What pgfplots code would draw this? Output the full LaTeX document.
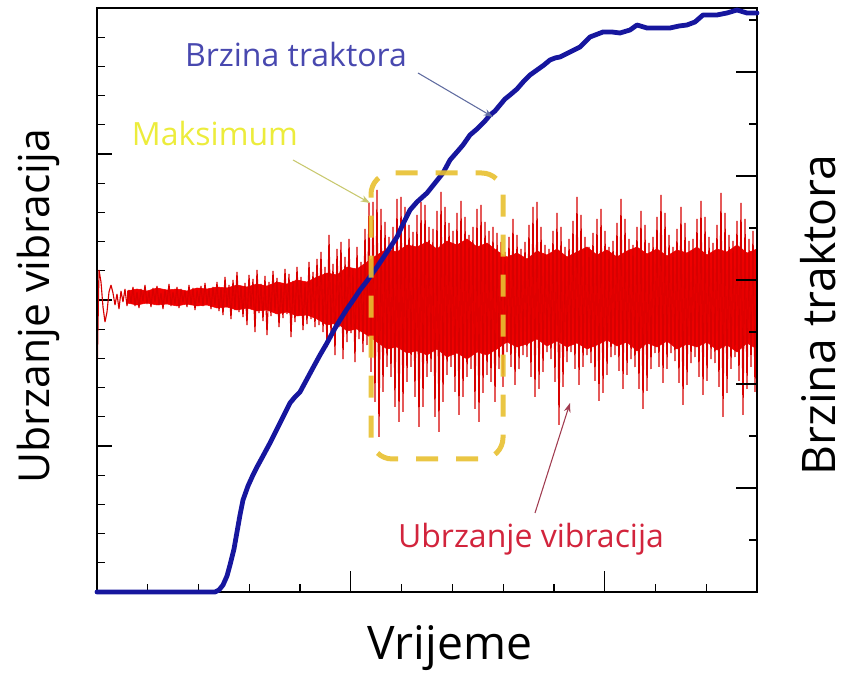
\documentclass[border=0pt]{standalone}
\usepackage{pgfplots}
\pgfplotsset{compat=1.18}
\usepackage{fontspec}
\setmainfont{Open Sans}
\usetikzlibrary{arrows.meta}
\definecolor{sigred}{RGB}{240,0,0}
\definecolor{spikered}{RGB}{215,0,0}
\definecolor{speedblue}{RGB}{22,22,158}
\definecolor{boxyellow}{RGB}{232,192,48}
\definecolor{annblue}{RGB}{72,72,175}
\definecolor{annyellow}{RGB}{236,236,60}
\definecolor{annred}{RGB}{210,36,60}
\definecolor{arrblue}{RGB}{96,108,160}
\definecolor{arryellow}{RGB}{200,200,110}
\definecolor{arrred}{RGB}{160,60,80}
\begin{document}
\begin{tikzpicture}
\begin{axis}[
  width=495pt, height=438pt, scale only axis,
  xmin=0, xmax=660, ymin=-295, ymax=289,
  xtick=\empty,
  ytick={-295,-149,-3,143,289}, minor tick num=4,
  ytick pos=left, tick align=inside,
  yticklabels={},
  major tick length=11pt, minor tick length=6pt,
  axis line style={line width=1pt},
  every tick/.style={black, line width=0.9pt},
]
% dense core of the vibration signal (upper edge left to right, lower edge right to left)
\addplot[fill=sigred, draw=sigred, line width=0.4pt] coordinates {
(30,6)(40,8)(50,6)(60,9)(70,7)(80,8)(90,6)(100,9)(110,8)(120,10)(130,9)(140,12)(150,10)(160,13)(170,11)(180,15)(190,13)(200,17)(210,15)(220,20)(230,24)(240,22)(250,30)(260,28)(270,35)(280,42)(290,48)(300,45)(310,52)(320,50)(330,55)(340,48)(350,56)(360,52)(370,58)(380,50)(390,54)(400,46)(410,40)(420,44)(430,38)(440,46)(450,42)(460,48)(470,40)(480,45)(490,50)(500,42)(510,47)(520,40)(530,46)(540,50)(550,43)(560,48)(570,41)(580,47)(590,44)(600,50)(610,42)(620,48)(630,45)(640,52)(650,44)(660,48)
(660,-52)(650,-46)(640,-55)(630,-48)(620,-53)(610,-45)(600,-50)(590,-47)(580,-52)(570,-44)(560,-50)(550,-46)(540,-54)(530,-45)(520,-49)(510,-43)(500,-48)(490,-52)(480,-46)(470,-50)(460,-44)(450,-49)(440,-42)(430,-47)(420,-50)(410,-45)(400,-52)(390,-58)(380,-55)(370,-62)(360,-56)(350,-60)(340,-52)(330,-58)(320,-54)(310,-56)(300,-50)(290,-52)(280,-45)(270,-38)(260,-32)(250,-34)(240,-26)(230,-28)(220,-22)(210,-18)(200,-19)(190,-15)(180,-17)(170,-13)(160,-14)(150,-11)(140,-13)(130,-10)(120,-11)(110,-8)(100,-9)(90,-7)(80,-9)(70,-7)(60,-8)(50,-6)(40,-8)(30,-6)
};
% vibration signal samples
\addplot[spikered, line width=0.85pt, line join=miter, miter limit=2] table[x expr=\coordindex*2, y=y, row sep=\\] {
y\\ -86\\ 27\\ 15\\ -10\\ -25\\ -15\\ 5\\ 12\\ 4\\ -8\\ 3\\ -12\\ 6\\ -5\\ 8\\ -9\\
7\\ -6\\ 10\\ -9\\ 5\\ -11\\ 8\\ -4\\ 12\\ -7\\
6\\ -10\\ 9\\ -5\\ 11\\ -8\\ 4\\ -12\\ 7\\ -6\\
13\\ -9\\ 5\\ -7\\ 10\\ -11\\ 8\\ -5\\ 6\\ -10\\
12\\ -8\\ 9\\ -13\\ 7\\ -6\\ 11\\ -9\\ 14\\ -7\\
8\\ -12\\ 10\\ -8\\
15\\ -14\\ 9\\ -18\\ 20\\ -10\\ 12\\ -22\\ 17\\ -13\\
25\\ -15\\ 11\\ -20\\ 14\\ -28\\ 22\\ -12\\ 18\\ -35\\
27\\ -16\\ 13\\ -24\\ 21\\ -38\\ 15\\ -19\\ 26\\ -14\\
19\\ -30\\ 12\\ -21\\ 28\\ -17\\ 23\\ -40\\ 16\\ -25\\
30\\ -18\\ 20\\ -33\\ 14\\ -27\\ 35\\ -22\\ 25\\ -30\\
38\\ -28\\ 45\\ -35\\ 30\\ -50\\ 62\\ -40\\ 33\\ -58\\
48\\ -30\\ 55\\ -62\\ 40\\ -45\\ 58\\ -36\\ 28\\ -65\\
50\\ -42\\ 35\\ -55\\ 68\\ -48\\ 94\\
-75\\ 95\\ -105\\ 107\\ -140\\ 88\\ -95\\ 75\\ -70\\ 60\\
-80\\ 70\\ -110\\ 98\\ -125\\ 100\\ -115\\ 90\\ -85\\ 72\\
-70\\ 65\\ -100\\ 82\\ -130\\ 95\\ -110\\ 92\\ -80\\ 70\\
-75\\ 68\\ -120\\ 86\\ -135\\ 105\\ -105\\ 90\\ -78\\ 74\\
-70\\ 66\\ -95\\ 84\\ -118\\ 96\\ -100\\ 80\\ -80\\ 62\\
-72\\ 70\\ -112\\ 88\\ -125\\ 92\\ -96\\ 75\\ -78\\ 66\\
-85\\ 70\\ -105\\ 64\\ -72\\ 55\\ -90\\
45\\ -55\\ 60\\ -70\\ 78\\ -88\\ 62\\ -72\\ 48\\ -58\\
55\\ -60\\ 72\\ -80\\ 90\\ -100\\ 95\\ -92\\ 70\\ -75\\ 52\\ -55\\
48\\ -62\\ 66\\ -85\\ 84\\ -128\\ 70\\ -90\\ 50\\ -65\\
58\\ -55\\ 76\\ -72\\ 100\\ -88\\ 82\\ -70\\ 60\\ -58\\
50\\ -66\\ 64\\ -84\\ 78\\ -104\\ 88\\ -96\\ 66\\ -78\\ 50\\ -60\\
56\\ -58\\ 74\\ -74\\ 98\\ -92\\ 78\\ -78\\ 58\\ -62\\
52\\ -70\\ 70\\ -92\\ 86\\ -112\\ 72\\ -94\\ 54\\ -72\\
60\\ -56\\ 80\\ -70\\ 102\\ -86\\ 84\\ -72\\ 62\\ -56\\
50\\ -64\\ 68\\ -86\\ 90\\ -108\\ 74\\ -88\\ 56\\ -66\\
58\\ -60\\ 78\\ -80\\ 96\\ -98\\ 80\\ -84\\ 60\\ -62\\
54\\ -66\\ 72\\ -90\\ 104\\ -120\\ 84\\ -96\\ 62\\ -72\\
56\\ -60\\ 76\\ -84\\ 94\\ -118\\ 78\\ -92\\ 58\\ -70\\
66\\ -95\\ 60\\
};
\end{axis}
\begin{axis}[
  width=495pt, height=438pt, scale only axis,
  xmin=0, xmax=660, ymin=0, ymax=584,
  xtick={0,253.85,507.69},
  minor xtick={50.77,101.54,152.31,203.08,304.62,355.38,406.15,456.92,558.46,609.23},
  ytick={0,104,208,312,416,520},
  minor ytick={52,156,260,364,468,572},
  xtick pos=bottom, ytick pos=right, tick align=inside,
  xticklabels={}, yticklabels={},
  major tick length=16pt, minor tick length=6pt,
  axis line style={line width=1pt},
  every tick/.style={black, line width=0.9pt},
  clip=false,
]
\addplot[speedblue, line width=3.6pt, line join=round, line cap=round] coordinates {
(0,0)(118,0)(122,2)(126,7)(130,16)(133,27)(137,43)(140,60)(143,77)(146,92)(151,106)(156,117)(160,125)(166,136)(173,149)(180,163)(187,177)(193,189)(198,195)(203,200)(210,213)(217,226)(223,237)(230,249)(237,262)(243,272)(250,283)(257,293)(263,302)(270,311)(280,325)(290,340)(300,355)(307,370)(313,382)(320,390)(330,399)(338,409)(346,419)(353,432)(360,440)(366,447)(373,457)(380,463)(388,471)(393,477)(398,481)(403,487)(408,493)(413,497)(420,503)(427,511)(433,517)(440,522)(447,527)(453,532)(458,534)(463,535)(473,540)(483,545)(493,555)(506,560)(515,560)(523,559)(533,562)(540,567)(550,564)(562,564)(573,564)(582,566)(590,567)(598,570)(606,577)(620,577)(630,579)(640,582)(650,579)(660,579)
};
\draw[boxyellow, opacity=0.9, line width=3.75pt, dash pattern=on 16.5pt off 13.5pt, rounded corners=16pt]
  (axis cs:274,133) rectangle (axis cs:406,419);
\draw[arrblue, line width=0.8pt, -{Stealth[length=7pt,width=5pt]}] (axis cs:321,519) -- (axis cs:396,475);
\draw[arryellow, line width=0.8pt, -{Stealth[length=7pt,width=5pt]}] (axis cs:196,432) -- (axis cs:273,389);
\draw[arrred, line width=0.8pt, -{Stealth[length=7pt,width=5pt]}] (axis cs:438,79) -- (axis cs:473,189);
\node[anchor=base, inner sep=0pt, text=annblue, font=\fontsize{24}{28}\selectfont] at (axis cs:199,525) {Brzina traktora};
\node[anchor=base, inner sep=0pt, text=annyellow, font=\fontsize{24}{28}\selectfont] at (axis cs:118,446) {Maksimum};
\node[anchor=base, inner sep=0pt, text=annred, font=\fontsize{24}{28}\selectfont] at (axis cs:434,44) {Ubrzanje vibracija};
\node[anchor=base, inner sep=0pt, font=\fontsize{34.7}{40}\selectfont] at (axis cs:353,-68) {Vrijeme};
\node[anchor=base, inner sep=0pt, rotate=90, font=\fontsize{32}{38}\selectfont] at (axis cs:-47,286) {Ubrzanje vibracija};
\node[anchor=base, inner sep=0pt, rotate=90, font=\fontsize{34.7}{40}\selectfont] at (axis cs:738,277) {Brzina traktora};
\coordinate (BL) at (axis cs:-97,-81);
\coordinate (TR) at (axis cs:757,592);
\end{axis}
\pgfresetboundingbox
\useasboundingbox (BL) rectangle (TR);
\end{tikzpicture}
\end{document}
